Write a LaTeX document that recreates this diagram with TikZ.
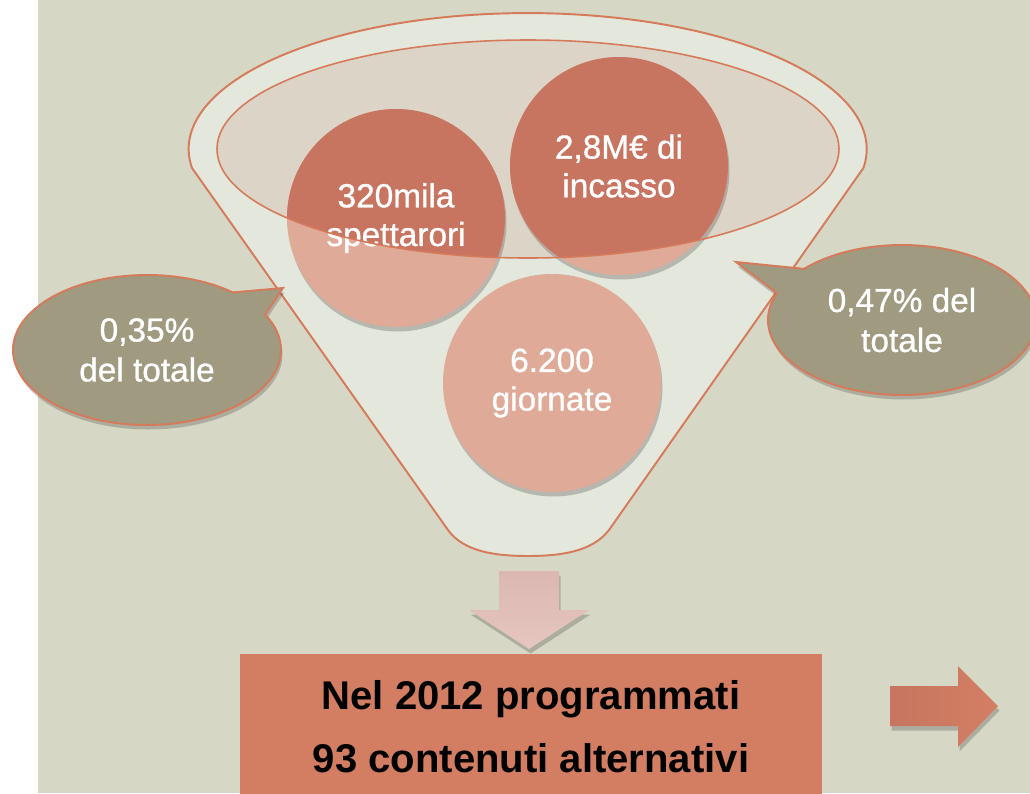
\documentclass[tikz,border=0pt]{standalone}
\usepackage{fontspec}
\setmainfont{Liberation Sans}
\newfontfamily\pienofont[FakeBold=0.9]{Liberation Sans}
\usepackage{tikz}
\usetikzlibrary{shapes.callouts,shadows}
\definecolor{sfondo}{HTML}{D6D8C5}
\definecolor{imbuto}{HTML}{E4E7DB}
\definecolor{bocca}{HTML}{DCD4C7}
\definecolor{bordo}{HTML}{D57A5B}
\definecolor{chiaro}{HTML}{DFAA98}
\definecolor{scuro}{HTML}{C77560}
\definecolor{nuvola}{HTML}{A09A80}
\definecolor{mattone}{HTML}{D37D62}
\definecolor{rosa}{HTML}{DCB7B1}
\definecolor{rosachiaro}{HTML}{E6C6C0}
\definecolor{arancio}{HTML}{D47F64}
\tikzset{
  ombra/.style={drop shadow={opacity=0.28, shadow xshift=0.3mm, shadow yshift=-0.9mm, fill=black!75}},
  cerchio/.style={circle, fill=chiaro, minimum size=4.36cm, inner sep=0pt, ombra},
  testo/.style={align=center, text=white, font=\pienofont\fontsize{19}{22}\selectfont},
  fumetto/.style={ellipse callout, draw=bordo, line width=1.1pt, fill=nuvola, text=white,
                  align=center, minimum width=5.36cm, minimum height=3cm, callout pointer arc=22,
                  font=\pienofont\fontsize{19}{22.7}\selectfont, ombra},
  esito/.style={rectangle, fill=mattone, minimum width=11.64cm, minimum height=2.94cm,
                align=center, font=\bfseries\fontsize{22.8}{35.7}\selectfont},
  freccia/.style={ombra},
}

\begin{document}
\begin{tikzpicture}[x=0.2mm, y=-0.2mm]
    \useasboundingbox (0,0) rectangle (1030,793);
    \fill[white] (0,0) rectangle (1030,793);
    \fill[sfondo] (38,0) rectangle (1030,793);
    % imbuto
    \filldraw[fill=imbuto, draw=bordo, line width=1.1pt] (192,168)
        arc[start angle=172, end angle=368, x radius=339, y radius=136] -- (609,530)
        .. controls (592,552) and (560,556) .. (528,556)
        .. controls (496,556) and (464,552) .. (448,530) -- cycle;
    \fill[bocca] (528,149) ellipse[x radius=311, y radius=109];
    \node[fumetto, callout absolute pointer={(283,288)}] (sx) at (147,350) {0,35\%\\del totale};
    \node[fumetto, callout absolute pointer={(736,262)}] (dx) at (902,320) {0,47\% del\\totale};
    \node[cerchio] (spett) at (396,218) {};
    \node[cerchio] (incas) at (619,166) {};
    \node[cerchio] (giorn) at (552,383) {};
    \begin{scope}
      \clip (528,149) ellipse[x radius=311, y radius=109];
      \fill[scuro] (spett) circle[radius=109];
      \fill[scuro] (incas) circle[radius=109];
    \end{scope}
    \node[testo] (spett-t) at (spett) {320mila\\spettarori};
    \node[testo] (incas-t) at (incas) {2,8M€ di\\incasso};
    \node[testo] (giorn-t) at (giorn) {6.200\\giornate};
    \draw[bordo, line width=0.9pt] (528,149) ellipse[x radius=311, y radius=109];
    % frecce
    \path[freccia, top color=rosa, bottom color=rosachiaro]
        (499,571) -- (559,571) -- (559,610) -- (589,610) -- (529,649) -- (469,610) -- (499,610) -- cycle;
    \path[freccia, left color=scuro, right color=arancio]
        (890,686) -- (958,686) -- (958,666) -- (998,706) -- (958,747) -- (958,726) -- (890,726) -- cycle;
    \node[esito] (esito) at (531,727) {Nel 2012 programmati\\93 contenuti alternativi};
\end{tikzpicture}
\end{document}
